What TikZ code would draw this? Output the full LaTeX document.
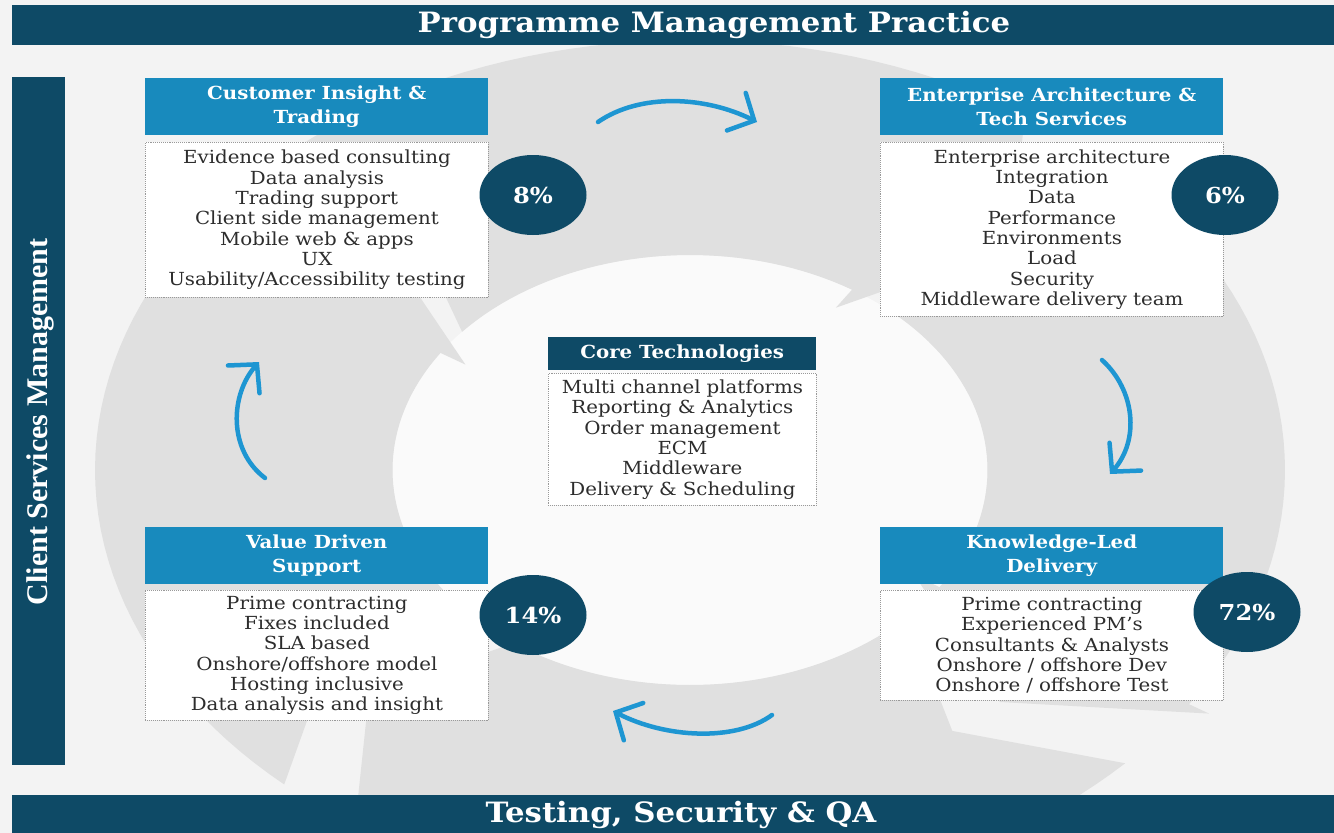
\documentclass[tikz,border=0pt]{standalone}
\usepackage{fontspec}
\setmainfont[FakeStretch=1.1]{DejaVu Serif}
\newfontfamily\sidefont{Liberation Serif}
\usepackage{tikz}
\usetikzlibrary{arrows.meta,shapes.geometric}

\definecolor{navy}{RGB}{14,74,102}
\definecolor{cyanblue}{RGB}{24,138,189}
\definecolor{flowblue}{RGB}{30,150,210}
\definecolor{ringgrey}{RGB}{224,224,224}
\definecolor{pagegrey}{RGB}{243,243,243}
\definecolor{innerwhite}{RGB}{250,250,250}
\definecolor{listtext}{RGB}{45,45,45}

\newcommand\ringarrow[2]{%
	\fill[ringgrey] plot[domain=#1:#2,samples=40] (\x:1) -- (#2:1.04) -- ({#2-13}:0.75)
		-- (#2:0.45) -- plot[domain=#2:#1,samples=40] (\x:0.5) -- ({#1-11}:0.75) -- cycle;}

\begin{document}
\begin{tikzpicture}[x=1pt,y=-1pt,
	bar/.style={fill=navy,inner sep=0pt,anchor=north west},
	bartext/.style={text=white,inner sep=0pt,font=\bfseries\fontsize{28}{30}\selectfont},
	boxhead/.style={fill=cyanblue,text=white,anchor=north west,inner sep=0pt,align=center,
		minimum width=343pt,minimum height=57pt,font=\bfseries\fontsize{18}{23.5}\selectfont},
	corehead/.style={boxhead,fill=navy,minimum width=268pt,minimum height=33pt},
	boxlist/.style={fill=white,draw=gray!80,densely dotted,line width=0.9pt,anchor=north west,
		inner sep=0pt,text width=343pt,align=center,text=listtext,font=\fontsize{18}{20.3}\selectfont},
	share/.style={ellipse,fill=navy,text=white,inner sep=0pt,minimum width=107pt,
		minimum height=80pt,font=\bfseries\fontsize{22}{22}\selectfont},
	flow/.style={flowblue,line width=4.5pt,line cap=round,
		-{Straight Barb[length=20pt,width=42pt,line cap=round]}}]

	\useasboundingbox (0,0) rectangle (1334,833);
	\begin{scope}
		\clip (0,0) rectangle (1334,833);
		\fill[pagegrey] (0,0) rectangle (1334,833);
		\begin{scope}[shift={(690,470)},x={(595pt,0pt)},y={(0pt,430pt)}]
			\fill[innerwhite] (0,0) circle (0.5);
			\ringarrow{140}{57}
			\ringarrow{47}{-33}
			\ringarrow{-43}{-123}
			\ringarrow{-133}{-213}
		\end{scope}
	\end{scope}

	\node[bar,minimum width=1322pt,minimum height=40pt] (topBar) at (12,5) {};
	\node[bartext] (topText) at (714,25) {Programme Management Practice};
	\node[bar,minimum width=1322pt,minimum height=38pt] (bottomBar) at (12,795) {};
	\node[bartext] (bottomText) at (681,815) {Testing, Security \& QA};
	\node[bar,minimum width=53pt,minimum height=688pt] (sideBar) at (12,77) {};
	\node[text=white,inner sep=0pt,rotate=90,font=\sidefont\bfseries\fontsize{30}{30}\selectfont]
		(sideText) at (40,422) {Client Services Management};

	\node[boxhead] (ciHead) at (145,78) {Customer Insight \&\\Trading};
	\node[boxlist,minimum height=155pt] (ciList) at (145,142) {Evidence based consulting\\Data analysis\\Trading support\\Client side management\\Mobile web \& apps\\UX\\Usability/Accessibility testing};

	\node[boxhead] (eaHead) at (880,78) {Enterprise Architecture \&\\Tech Services};
	\node[boxlist,minimum height=174pt] (eaList) at (880,142) {Enterprise architecture\\Integration\\Data\\Performance\\Environments\\Load\\Security\\Middleware delivery team};

	\node[corehead] (coreHead) at (548,337) {Core Technologies};
	\node[boxlist,text width=268pt,minimum height=132pt] (coreList) at (548,373) {Multi channel platforms\\Reporting \& Analytics\\Order management\\ECM\\Middleware\\Delivery \& Scheduling};

	\node[boxhead] (vdHead) at (145,527) {Value Driven\\Support};
	\node[boxlist,minimum height=130pt] (vdList) at (145,590) {Prime contracting\\Fixes included\\SLA based\\Onshore/offshore model\\Hosting inclusive\\Data analysis and insight};

	\node[boxhead] (klHead) at (880,527) {Knowledge-Led\\Delivery};
	\node[boxlist,minimum height=110pt] (klList) at (880,590) {Prime contracting\\Experienced PM's\\Consultants \& Analysts\\Onshore / offshore Dev\\Onshore / offshore Test};

	\node[share] (ciShare) at (533,195) {8\%};
	\node[share] (eaShare) at (1225,195) {6\%};
	\node[share] (vdShare) at (533,615) {14\%};
	\node[share] (klShare) at (1247,612) {72\%};

	\coordinate (topFrom) at (598,122);
	\coordinate (topTo) at (757,122);
	\coordinate (rightFrom) at (1102,360);
	\coordinate (rightTo) at (1110,474);
	\coordinate (bottomFrom) at (772,715);
	\coordinate (bottomTo) at (613,711);
	\coordinate (leftFrom) at (265,478);
	\coordinate (leftTo) at (259,362);
	\draw[flow] (topFrom) .. controls (640,93) and (705,96) .. (topTo);
	\draw[flow] (rightFrom) .. controls (1135,390) and (1140,440) .. (rightTo);
	\draw[flow] (bottomFrom) .. controls (735,742) and (665,738) .. (bottomTo);
	\draw[flow] (leftFrom) .. controls (228,450) and (230,395) .. (leftTo);
\end{tikzpicture}
\end{document}
